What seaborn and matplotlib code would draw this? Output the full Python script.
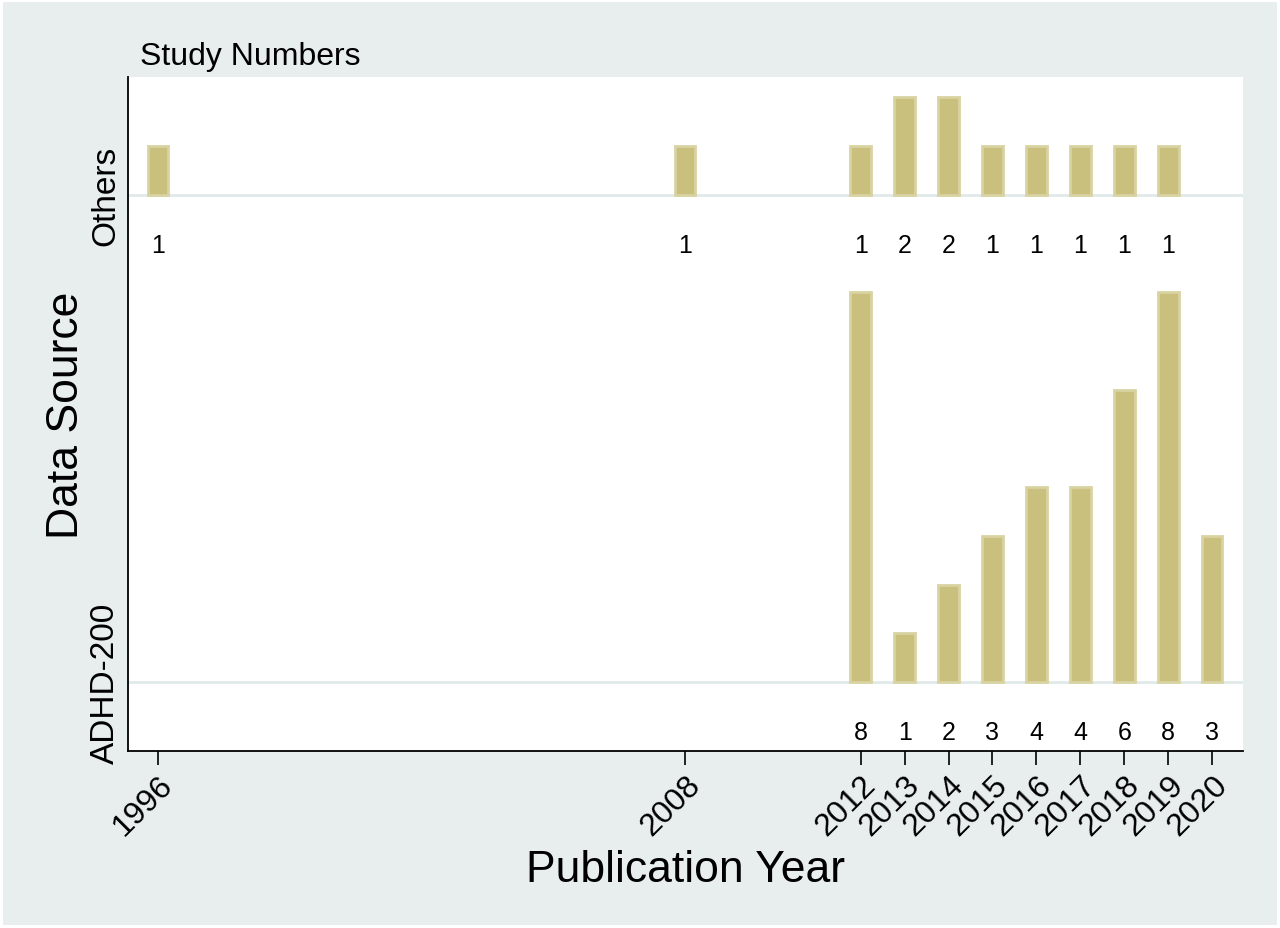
import numpy as np
import pandas as pd
import matplotlib
matplotlib.use("Agg")
import matplotlib.pyplot as plt
import seaborn as sns

# --- data ---
years_adhd = [2012, 2013, 2014, 2015, 2016, 2017, 2018, 2019, 2020]
counts_adhd = [8, 1, 2, 3, 4, 4, 6, 8, 3]

years_others = [1996, 2008, 2012, 2013, 2014, 2015, 2016, 2017, 2018, 2019]
counts_others = [1, 1, 1, 2, 2, 1, 1, 1, 1, 1]

row_names = ["ADHD-200", "Others"]
row_base = [0, 10]          # baseline of each row on the shared y scale
tick_years = [1996, 2008, 2012, 2013, 2014, 2015, 2016, 2017, 2018, 2019, 2020]

df_adhd = pd.DataFrame({"year": years_adhd, "n": counts_adhd})
df_others = pd.DataFrame({"year": years_others, "n": counts_others})

sns.set_style("white")
plt.rcParams["font.family"] = ["Liberation Sans", "DejaVu Sans"]
plt.rcParams["text.color"] = "black"
plt.rcParams["axes.labelcolor"] = "black"
plt.rcParams["xtick.color"] = "black"
plt.rcParams["ytick.color"] = "black"

bg = "#E8EEEE"
bar_col = "#C9C07E"
edge_col = "#D9D3A2"

fig = plt.figure(figsize=(12.8, 9.29), dpi=100, facecolor=bg)
fig.patch.set_edgecolor("white")
fig.patch.set_linewidth(4)
ax = fig.add_axes([0.1, 0.1905, 0.871, 0.7255])
ax.set_facecolor("white")

for d, base in [(df_adhd, row_base[0]), (df_others, row_base[1])]:
    sns.barplot(data=d, x="year", y="n", native_scale=True, width=0.47,
                color=bar_col, saturation=1, edgecolor=edge_col, linewidth=2,
                bottom=base, ax=ax, zorder=3)
    for yr, n in zip(d["year"], d["n"]):
        ax.text(yr, base - 1.03, str(n), ha="center", va="center", fontsize=18)

ax.set_xlim(1995.32, 2020.7)
ax.set_ylim(-1.415, 12.41)

ax.set_xticks(tick_years)
ax.set_xticklabels([str(y) for y in tick_years], rotation=45, ha="right",
                   rotation_mode="anchor", fontsize=23)
ax.tick_params(axis="x", length=10, width=1.2, color="black", pad=3, direction="out")
ax.xaxis.set_ticks_position("bottom")

ax.set_yticks(row_base)
ax.set_yticklabels(row_names, rotation=90, va="center", fontsize=24)
ax.tick_params(axis="y", length=0, pad=5)

ax.yaxis.grid(True, color="#E0E9E9", linewidth=2)
ax.xaxis.grid(False)
ax.set_axisbelow(True)

for s in ["top", "right"]:
    ax.spines[s].set_visible(False)
for s in ["left", "bottom"]:
    ax.spines[s].set_color("black")
    ax.spines[s].set_linewidth(1.3)

ax.set_xlabel("Publication Year", fontsize=32, labelpad=6)
ax.set_ylabel("Data Source", fontsize=32, labelpad=2)
fig.text(0.109, 0.930, "Study Numbers", fontsize=23, ha="left", va="baseline")

fig.savefig("out.png", dpi=100, facecolor=bg, edgecolor="white")
